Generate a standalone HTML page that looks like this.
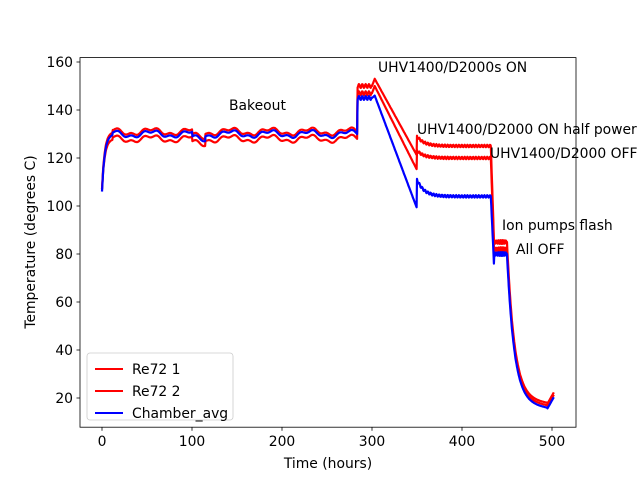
<!DOCTYPE html>
<html><head><meta charset="utf-8"><style>
body{margin:0;background:#fff;}
svg text{font-family:"DejaVu Sans","Liberation Sans",sans-serif;font-size:13.9px;fill:#000;}
</style></head><body>
<svg id="s" width="640" height="480" xmlns="http://www.w3.org/2000/svg">
<rect width="640" height="480" fill="#fff"/>
<g id="lines"></g>
<rect x="80" y="57.6" width="496" height="369.6" fill="none" stroke="#000" stroke-width="0.8"/>
<g id="ticks" stroke="#000" stroke-width="0.8"></g>
<g id="labels"></g>
<text x="328" y="468" text-anchor="middle">Time (hours)</text>
<text transform="translate(35,242) rotate(-90)" text-anchor="middle">Temperature (degrees C)</text>
<text x="229" y="110">Bakeout</text>
<text x="378" y="72">UHV1400/D2000s ON</text>
<text x="417" y="134">UHV1400/D2000 ON half power</text>
<text x="490" y="158">UHV1400/D2000 OFF</text>
<text x="502" y="230">Ion pumps flash</text>
<text x="516" y="254">All OFF</text>
<rect x="87" y="353" width="146" height="67" rx="3" fill="#fff" stroke="#ccc" stroke-width="0.8"/>
<line x1="95" y1="369" x2="123" y2="369" stroke="red" stroke-width="2"/>
<line x1="95" y1="391" x2="123" y2="391" stroke="red" stroke-width="2"/>
<line x1="95" y1="413" x2="123" y2="413" stroke="blue" stroke-width="2"/>
<text x="132" y="374">Re72 1</text>
<text x="132" y="396">Re72 2</text>
<text x="132" y="418">Chamber_avg</text>
</svg>
<script>
function X(t){return 102+t*0.9;}
function Y(v){return 398-(v-20)*2.4;}
var NS="http://www.w3.org/2000/svg";
var tk=document.getElementById('ticks'),lb=document.getElementById('labels');
function el(p,n,a,txt){var e=document.createElementNS(NS,n);for(var k in a)e.setAttribute(k,a[k]);if(txt!=null)e.textContent=txt;p.appendChild(e);}
for(var t=0;t<=500;t+=100){el(tk,'line',{x1:X(t),y1:427.2,x2:X(t),y2:430.7});el(lb,'text',{x:X(t),y:446,'text-anchor':'middle'},t);}
for(var v=20;v<=160;v+=20){el(tk,'line',{x1:76.5,y1:Y(v),x2:80,y2:Y(v)});el(lb,'text',{x:73,y:Y(v)+5,'text-anchor':'end'},v);}
function gen(p){ // p: plateau, hi, hiEnd, midStart, mid, pf, low
 var pts=[];
 for(var t=0;t<=502;t+=0.5){
  var v;
  if(t<12)v=p.s+(p.p-p.s)*(1-Math.exp(-t/3));
  else if(t<284)v=p.p+1.2*Math.sin(t/7)+0.6*Math.sin(t/2.3)-(t>100&&t<115?2:0);
  else if(t<300)v=p.hi+0.8*Math.sin(t*1.7);
  else if(t<303)v=p.hi+(p.pk-p.hi)*(t-300)/3;
  else if(t<350)v=p.pk+(p.e-p.pk)*(t-303)/47;
  else if(t<432)v=p.m+(p.j-p.m)*Math.exp(-(t-350)/8)+0.5*Math.sin(t*2);
  else if(t<436)v=p.m+(p.d-p.m)*(t-432)/4;
  else if(t<450)v=p.f+0.8*Math.sin(t*3);
  else if(t<495)v=p.l+(p.f-p.l)*Math.exp(-(t-450)/8)-(t-450)*0.05;
  else v=p.l-2.3+(p.r-p.l+2.3)*(t-495)/5;
  pts.push(X(t).toFixed(1)+','+Y(v).toFixed(1));
 }
 return pts.join(' ');
}
var g=document.getElementById('lines');
var S=[
 ['red',{s:107,p:131,hi:150,pk:153,e:121,j:129,m:125,d:80,f:85,l:20,r:21}],
 ['red',{s:107,p:128,hi:147,pk:150,e:115,j:123,m:120,d:78,f:82,l:19,r:20}],
 ['blue',{s:106,p:130,hi:145,pk:146,e:99,j:111,m:104,d:72,f:80,l:18,r:19}]
];
S.forEach(function(s){el(g,'polyline',{points:gen(s[1]),fill:'none',stroke:s[0],'stroke-width':2.2,'stroke-linejoin':'round'});});
</script>
</body></html>
